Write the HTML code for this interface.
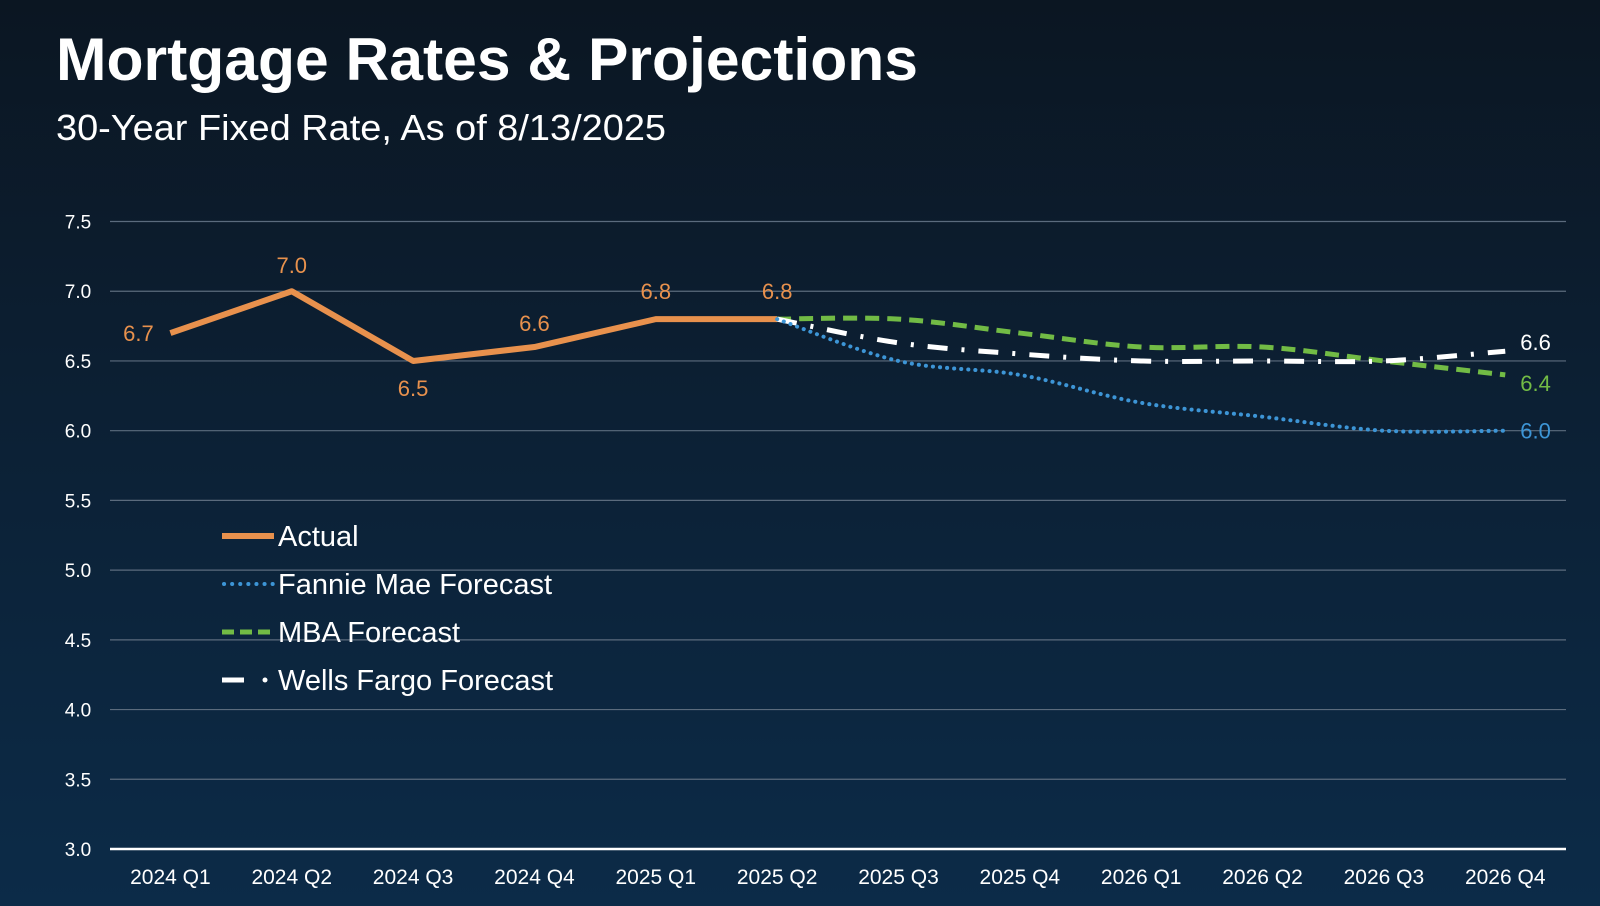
<!DOCTYPE html>
<html><head><meta charset="utf-8"><style>
html,body{margin:0;padding:0;width:1600px;height:906px;overflow:hidden}
body{background:linear-gradient(180deg,#0b1622 0%,#0c2034 45%,#0c2b48 100%);font-family:"Liberation Sans",sans-serif}
svg{position:absolute;left:0;top:0}
</style></head><body>
<svg id="chart" width="1600" height="906" xmlns="http://www.w3.org/2000/svg">
<text x="56" y="80" fill="#fff" font-family="Liberation Sans, sans-serif" font-weight="bold" font-size="60" textLength="862" lengthAdjust="spacingAndGlyphs">Mortgage Rates &amp; Projections</text>
<text x="56" y="140" fill="#fff" font-family="Liberation Sans, sans-serif" font-size="36" textLength="610" lengthAdjust="spacingAndGlyphs">30-Year Fixed Rate, As of 8/13/2025</text>
<g id="grid"></g><g id="series"></g><g id="labels"></g>
<g font-family="Liberation Sans, sans-serif" font-size="29" fill="#fff">
<g><line x1="222" y1="536" x2="274" y2="536" stroke="#e8914d" stroke-width="6"/><text x="278" y="546">Actual</text></g>
<g><line x1="224" y1="584" x2="274" y2="584" stroke="#3d95d6" stroke-width="4" stroke-dasharray="0.1 8" stroke-linecap="round"/><text x="278" y="594">Fannie Mae Forecast</text></g>
<g><line x1="222" y1="632" x2="274" y2="632" stroke="#72bb45" stroke-width="5" stroke-dasharray="12 6"/><text x="278" y="642">MBA Forecast</text></g>
<g><line x1="222" y1="680" x2="244" y2="680" stroke="#fff" stroke-width="5"/><circle cx="265" cy="680" r="2.5" fill="#fff"/><text x="278" y="690">Wells Fargo Forecast</text></g>
</g>
</svg>
<script>
const categories=["2024 Q1","2024 Q2","2024 Q3","2024 Q4","2025 Q1","2025 Q2","2025 Q3","2025 Q4","2026 Q1","2026 Q2","2026 Q3","2026 Q4"];
const yTicks=[3.0,3.5,4.0,4.5,5.0,5.5,6.0,6.5,7.0,7.5];
const actual=[6.7,7.0,6.5,6.6,6.8,6.8];
const fannie=[6.8,6.5,6.4,6.2,6.1,6.0,6.0];
const mba=[6.8,6.8,6.7,6.6,6.6,6.5,6.4];
const wells=[6.8,6.63,6.55,6.5,6.5,6.5,6.57];
const forecastStart=5;
const NS="http://www.w3.org/2000/svg";
const X=i=>170.4+i*121.35;
const Y=v=>849-(v-3)/0.5*69.72;
function mk(tag,attrs,parent,text){const e=document.createElementNS(NS,tag);for(const k in attrs)e.setAttribute(k,attrs[k]);if(text!==undefined)e.textContent=text;parent.appendChild(e);return e;}
const grid=document.getElementById('grid'),ser=document.getElementById('series'),lab=document.getElementById('labels');
yTicks.forEach(t=>{
 const l=mk('line',{x1:110,x2:1566,y1:Y(t),y2:Y(t),stroke:t===3?'#ffffff':'#5b6b7d','stroke-width':t===3?2.5:1.2},grid);
 
 
 const tx=mk('text',{x:78,y:Y(t)+7,fill:'#fff','font-size':19,'text-anchor':'middle','font-family':'Liberation Sans, sans-serif'},grid,t.toFixed(1));
 
 
});
categories.forEach((c,i)=>{
 const tx=mk('text',{x:X(i),y:884,fill:'#fff','font-size':21,'text-anchor':'middle','font-family':'Liberation Sans, sans-serif'},grid,c);
 
 
});
function smooth(pts){let d=`M${pts[0][0]},${pts[0][1]}`;for(let i=0;i<pts.length-1;i++){const p0=pts[i-1]||pts[i],p1=pts[i],p2=pts[i+1],p3=pts[i+2]||p2;const t=0.17;d+=` C${p1[0]+(p2[0]-p0[0])*t},${p1[1]+(p2[1]-p0[1])*t} ${p2[0]-(p3[0]-p1[0])*t},${p2[1]-(p3[1]-p1[1])*t} ${p2[0]},${p2[1]}`;}return d;}
const ap=mk('polyline',{points:actual.map((v,i)=>X(i)+','+Y(v)).join(' '),fill:'none',stroke:'#e8914d','stroke-width':6,'stroke-linejoin':'round'},ser);


function fc(arr,attrs,name){const pts=arr.map((v,i)=>[X(i+forecastStart),Y(v)]);const p=mk('path',Object.assign({d:smooth(pts),fill:'none'},attrs),ser);}
fc(mba,{stroke:'#72bb45','stroke-width':5,'stroke-dasharray':'14 8'},'mba-forecast-line');
fc(wells,{stroke:'#ffffff','stroke-width':5,'stroke-dasharray':'20 14 3 14'},'wells-fargo-forecast-line');
fc(fannie,{stroke:'#3d95d6','stroke-width':4,'stroke-dasharray':'0.1 7','stroke-linecap':'round'},'fannie-mae-forecast-line');
const off=[[-32,8],[0,-18],[0,35],[0,-16],[0,-20],[0,-20]];
actual.forEach((v,i)=>{const t=mk('text',{x:X(i)+off[i][0],y:Y(v)+off[i][1],fill:'#e8914d','font-size':22,'text-anchor':'middle','font-family':'Liberation Sans, sans-serif'},lab,v.toFixed(1));
 
 });
const ex=X(categories.length-1)+15;
[[wells,'#ffffff',-1],[mba,'#72bb45',16],[fannie,'#3d95d6',8]].forEach(([a,c,dy])=>{const t=mk('text',{x:ex,y:Y(a[a.length-1])+dy,fill:c,'font-size':22,'font-family':'Liberation Sans, sans-serif'},lab,a[a.length-1].toFixed(1));
 
 });
</script>
</body></html>
